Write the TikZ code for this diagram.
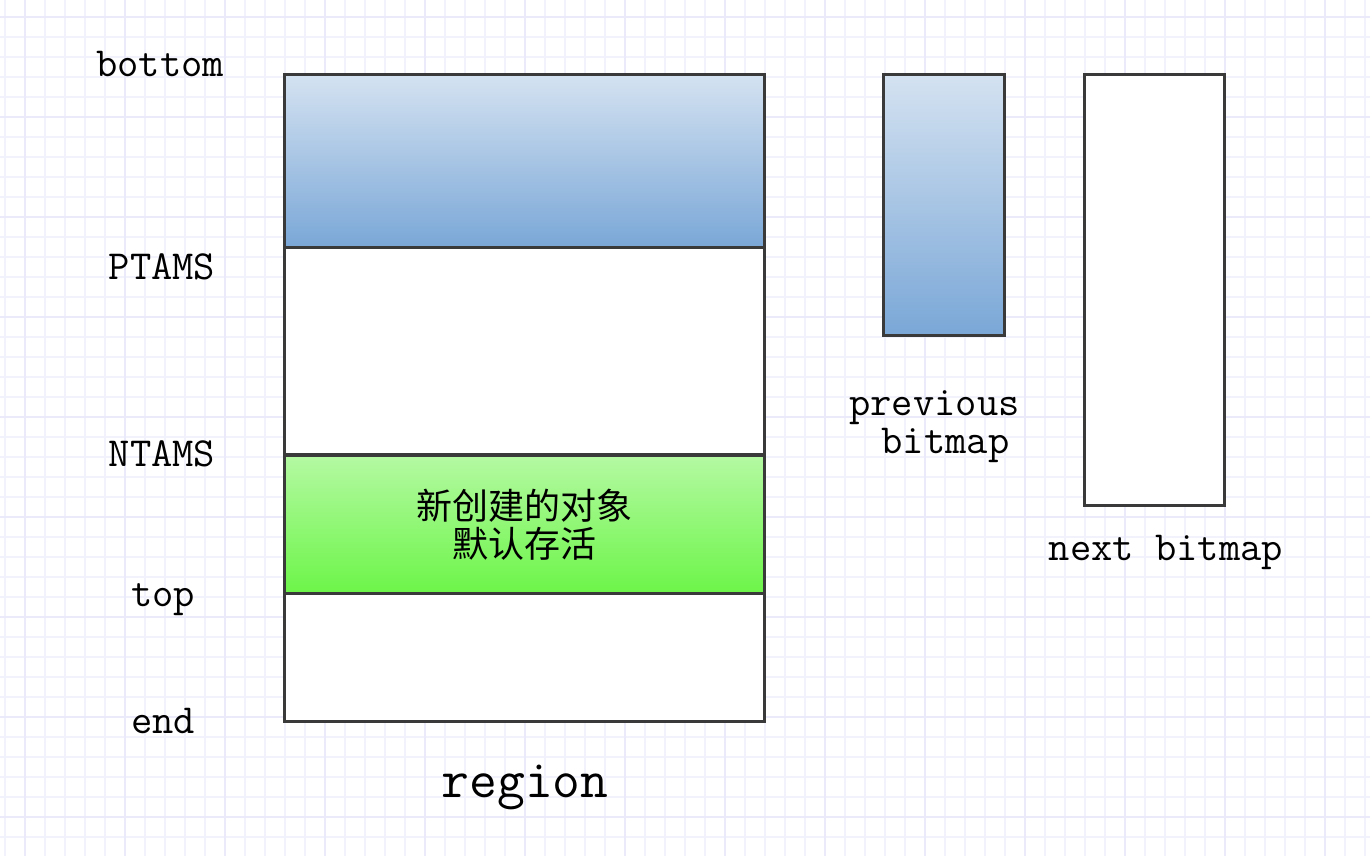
\documentclass[tikz,border=0pt]{standalone}
\usepackage{fontspec}
\newfontfamily\cjkfont{Noto Sans CJK SC}
\definecolor{gridminor}{RGB}{242,242,253}
\definecolor{gridmajor}{RGB}{234,234,251}
\definecolor{edgegray}{RGB}{58,58,58}
\definecolor{bluetop}{RGB}{212,226,241}
\definecolor{bluebot}{RGB}{122,167,215}
\definecolor{greentop}{RGB}{180,249,162}
\definecolor{greenbot}{RGB}{108,245,72}

\begin{document}
\begin{tikzpicture}[
    x=0.75pt, y=-0.75pt,
    seg/.style={rectangle, draw=edgegray, line width=2.25pt,
                inner sep=0pt, outer sep=0pt, fill=white},
    bluefill/.style={seg, top color=bluetop, bottom color=bluebot},
    greenfill/.style={seg, top color=greentop, bottom color=greenbot},
    lbl/.style={font=\fontsize{31}{34}\selectfont\ttfamily, inner sep=0pt,
                anchor=base}
]

\useasboundingbox (0,0) rectangle (1370,856);
\fill[white] (0,0) rectangle (1370,856);

% Raster
\foreach \gx in {5,25,...,1365}
    \draw[gridminor, line width=0.9pt] (\gx,0) -- (\gx,856);
\foreach \gy in {17,37,...,856}
    \draw[gridminor, line width=0.9pt] (0,\gy) -- (1370,\gy);
\foreach \gx in {25,125,...,1365}
    \draw[gridmajor, line width=0.9pt] (\gx,0) -- (\gx,856);
\foreach \gy in {17,117,...,856}
    \draw[gridmajor, line width=0.9pt] (0,\gy) -- (1370,\gy);

% Region
\node[bluefill, minimum width=360pt, minimum height=129pt] (used) at (524,161) {};
\node[seg, minimum width=360pt, minimum height=155.25pt] (gap) at (524,350.5) {};
\node[greenfill, minimum width=360pt, minimum height=104.25pt, align=center,
      font=\fontsize{27}{28.5}\selectfont\cjkfont] (alloc) at (524,525)
    {新创建的对象\\默认存活};
\node[seg, minimum width=360pt, minimum height=96pt] (free) at (524,657) {};

% Bitmaps
\node[bluefill, minimum width=90.75pt, minimum height=195pt] (prev) at (943.5,205) {};
\node[seg, minimum width=105pt, minimum height=322.5pt] (next) at (1154,290) {};

% Zeiger
\node[lbl] (bottom) at (160,77) {bottom};
\node[lbl] (ptams)  at (162,279) {PTAMS};
\node[lbl] (ntams)  at (162,466) {NTAMS};
\node[lbl] (top)    at (163,606) {top};
\node[lbl] (end)    at (163,733) {end};

\node[lbl] (prevlbl) at (934.5,415) {previous};
\node[lbl] (prevlbl2) at (945.5,453) {bitmap};
\node[lbl] (nextlbl) at (1166,560) {next bitmap};
\node[lbl, font=\fontsize{40.5}{44}\selectfont\ttfamily] (regionlbl) at (525,797) {region};

\end{tikzpicture}
\end{document}
